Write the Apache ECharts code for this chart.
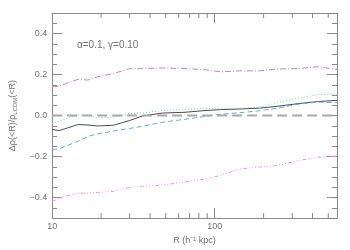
<!DOCTYPE html>
<html><head><meta charset="utf-8">
<script src="https://cdn.jsdelivr.net/npm/echarts@6/dist/echarts.min.js"></script>
<style>html,body{margin:0;padding:0;background:#fff}#c{width:350px;height:250px}</style>
</head><body><div id="c"></div>
<script>
// Radii (h^-1 kpc)
const R = [10, 11, 12.5, 14.4, 16.6, 19, 23.9, 30, 36, 47.6, 65.6, 86, 109, 143, 188, 248, 326, 430, 566];
const purpleDashDot = [0.142, 0.142, 0.160, 0.176, 0.173, 0.189, 0.205, 0.229, 0.229, 0.232, 0.229, 0.224, 0.213, 0.218, 0.218, 0.227, 0.229, 0.238, 0.225];
const blackSolid = [-0.068, -0.073, -0.060, -0.044, -0.046, -0.051, -0.047, -0.024, -0.002, 0.012, 0.016, 0.024, 0.029, 0.032, 0.036, 0.046, 0.058, 0.068, 0.074];
const greenDotted = [-0.038, -0.028, -0.012, 0.003, 0.003, -0.010, -0.008, 0.010, 0.012, 0.025, 0.029, 0.034, 0.033, 0.035, 0.040, 0.065, 0.085, 0.102, 0.105];
const blueDashed = [-0.166, -0.163, -0.145, -0.125, -0.102, -0.090, -0.075, -0.063, -0.052, -0.033, -0.018, -0.005, 0.006, 0.014, 0.023, 0.037, 0.055, 0.066, 0.062];
const pinkDashDots = [-0.419, -0.405, -0.390, -0.379, -0.378, -0.375, -0.369, -0.350, -0.345, -0.339, -0.324, -0.311, -0.292, -0.260, -0.251, -0.243, -0.220, -0.203, -0.198];
const zeroLine = [0, 0];
const zeroR = [10, 566];
const xMinorTicks = [20, 30, 40, 50, 60, 70, 80, 90, 200, 300, 400, 500];
const yMajorTicks = [-0.4, -0.2, 0, 0.2, 0.4];
const annotation = 'α=0.1, γ=0.10';

const X0 = 10, X1 = 566, Y0 = -0.5, Y1 = 0.5;
const axisCol = '#8a8a8a', textCol = '#707070';
const font = 'Liberation Sans';

function pairs(vals, xs) { return vals.map((v, i) => [xs[i], v]); }

const chart = echarts.init(document.getElementById('c'), null, {renderer: 'canvas'});
const fmtY = v => {
  if (Math.abs(v * 5 - Math.round(v * 5)) > 1e-6 || Math.abs(v) > 0.45) return '';
  const s = Math.abs(v).toFixed(1);
  return v < -1e-9 ? '\u2212' + s : s;
};

const lineSeries = (name, vals, color, type) => ({
  name, type: 'line', data: pairs(vals, R), showSymbol: false, symbol: 'none',
  smooth: false, xAxisIndex: 0, yAxisIndex: 0,
  lineStyle: {color, width: 1, type}
});

chart.setOption({
  animation: false,
  grid: {left: 43, right: 13, top: 13, bottom: 28, containLabel: false},
  xAxis: [
    {type: 'log', logBase: 10, min: X0, max: X1, position: 'bottom',
     axisLine: {show: true, onZero: false, lineStyle: {color: axisCol, width: 1}},
     axisTick: {show: true, inside: true, length: 10, lineStyle: {color: axisCol}},
     minorTick: {show: false}, splitLine: {show: false},
     axisLabel: {color: textCol, fontFamily: font, fontSize: 9, margin: 4, showMaxLabel: false,
                 formatter: v => (Math.abs(v - 10) < 1e-6 ? '10' : Math.abs(v - 100) < 1e-6 ? '100' : '')},
     name: 'R (h\u207B\u00B9 kpc)', nameLocation: 'middle', nameGap: 17,
     nameTextStyle: {color: textCol, fontFamily: font, fontSize: 9}},
    {type: 'log', logBase: 10, min: X0, max: X1, position: 'top',
     axisLine: {show: true, onZero: false, lineStyle: {color: axisCol, width: 1}},
     axisTick: {show: true, inside: true, length: 10, lineStyle: {color: axisCol}},
     splitLine: {show: false}, axisLabel: {show: false}}
  ],
  yAxis: [
    {type: 'value', min: Y0, max: Y1, interval: 0.05, position: 'left',
     axisLine: {show: true, onZero: false, lineStyle: {color: axisCol, width: 1}},
     axisTick: {show: true, inside: true, length: 5, lineStyle: {color: axisCol}},
     splitLine: {show: false},
     axisLabel: {color: textCol, fontFamily: font, fontSize: 9, margin: 5, formatter: fmtY,
                 showMinLabel: true, showMaxLabel: true, hideOverlap: false},
     name: '{t|\u0394\u03C1(<R)/\u03C1}{s|LCDM}{t|(<R)}', nameLocation: 'middle', nameGap: 28, nameRotate: 90,
     nameTextStyle: {rich: {t: {color: textCol, fontFamily: font, fontSize: 9},
                            s: {color: textCol, fontFamily: font, fontSize: 6, padding: [6, 0, 0, 0]}}}},
    {type: 'value', min: Y0, max: Y1, interval: 0.05, position: 'right',
     axisLine: {show: true, onZero: false, lineStyle: {color: axisCol, width: 1}},
     axisTick: {show: true, inside: true, length: 5, lineStyle: {color: axisCol}},
     splitLine: {show: false}, axisLabel: {show: false}}
  ],
  title: {text: annotation, left: 72, top: 35,
          textStyle: {color: textCol, fontFamily: font, fontSize: 10, fontWeight: 'normal'}},
  series: [
    lineSeries('purple', purpleDashDot, '#b683e6', [6, 2, 1, 2]),
    lineSeries('black', blackSolid, '#4a4a4a', 'solid'),
    lineSeries('green', greenDotted, '#7fcf9f', [1, 2]),
    lineSeries('blue', blueDashed, '#6ea6d8', [5, 3]),
    lineSeries('pink', pinkDashDots, '#ff8ce6', [4, 2, 1, 2, 1, 2, 1, 2]),
    {name: 'zero', type: 'line', data: pairs(zeroLine, zeroR), showSymbol: false, symbol: 'none',
     lineStyle: {color: '#a9a9a9', width: 2, type: [10, 5]}, z: 3},
    {name: 'xminor', type: 'custom', xAxisIndex: 0, yAxisIndex: 0, clip: false, silent: true,
     data: xMinorTicks.map(v => [v, Y0]),
     renderItem: (params, api) => {
       const b = api.coord([api.value(0), Y0]);
       const t = api.coord([api.value(0), Y1]);
       const st = {stroke: axisCol, lineWidth: 1};
       return {type: 'group', children: [
         {type: 'line', shape: {x1: b[0], y1: b[1], x2: b[0], y2: b[1] - 5}, style: st},
         {type: 'line', shape: {x1: t[0], y1: t[1], x2: t[0], y2: t[1] + 5}, style: st}
       ]};
     }},
    {name: 'ymajor', type: 'custom', xAxisIndex: 0, yAxisIndex: 0, clip: false, silent: true,
     data: yMajorTicks.map(v => [X0, v]),
     renderItem: (params, api) => {
       const l = api.coord([X0, api.value(1)]);
       const r = api.coord([X1, api.value(1)]);
       const st = {stroke: axisCol, lineWidth: 1};
       return {type: 'group', children: [
         {type: 'line', shape: {x1: l[0], y1: l[1], x2: l[0] + 10, y2: l[1]}, style: st},
         {type: 'line', shape: {x1: r[0], y1: r[1], x2: r[0] - 10, y2: r[1]}, style: st}
       ]};
     }}
  ]
});
</script>
</body></html>
